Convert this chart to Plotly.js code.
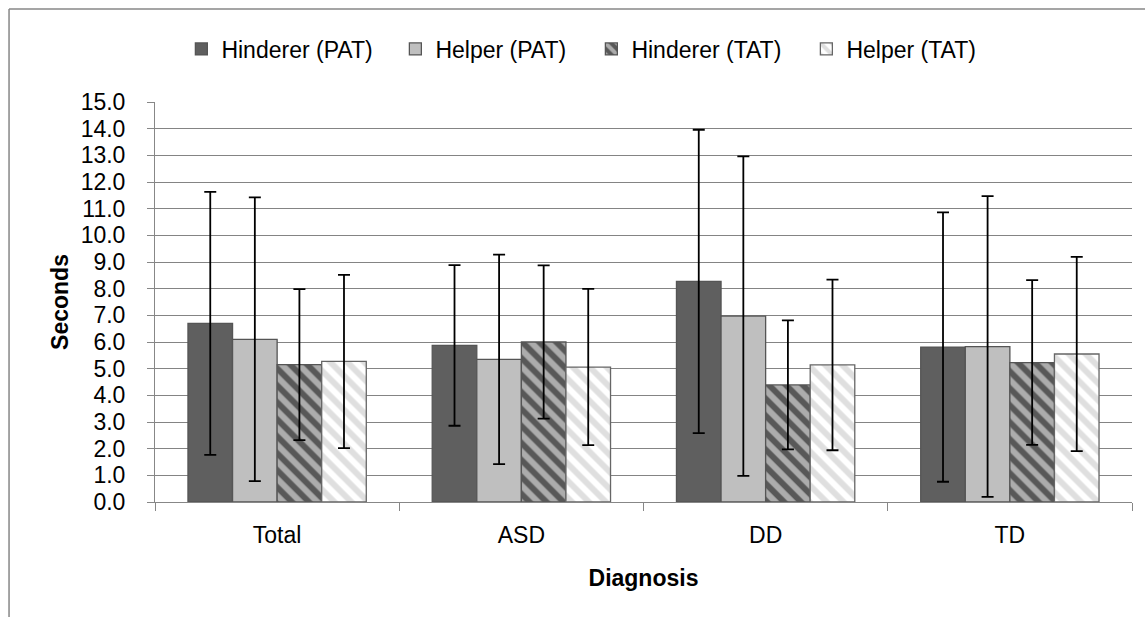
<!DOCTYPE html>
<html>
<head>
<meta charset="utf-8">
<script src="https://cdn.plot.ly/plotly-3.0.1.min.js"></script>
<style>
  html, body { margin: 0; padding: 0; background: #ffffff; }
  #chart { width: 1145px; height: 617px; }
</style>
</head>
<body>
<div id="chart"></div>
<script>
// ---- data ----
const categories = ["Total", "ASD", "DD", "TD"];
const seriesNames = ["Hinderer (PAT)", "Helper (PAT)", "Hinderer (TAT)", "Helper (TAT)"];
const hindererPAT = [6.7, 5.87, 8.27, 5.81];
const hindererPATerr = [4.93, 3.01, 5.69, 5.05];
const helperPAT = [6.1, 5.35, 6.97, 5.83];
const helperPATerr = [5.32, 3.93, 5.99, 5.64];
const hindererTAT = [5.15, 6.0, 4.39, 5.23];
const hindererTATerr = [2.83, 2.87, 2.42, 3.09];
const helperTAT = [5.27, 5.06, 5.14, 5.55];
const helperTATerr = [3.25, 2.93, 3.2, 3.64];
const yTickVals = [0,1,2,3,4,5,6,7,8,9,10,11,12,13,14,15];
const yTickText = ["0.0","1.0","2.0","3.0","4.0","5.0","6.0","7.0","8.0","9.0","10.0","11.0","12.0","13.0","14.0","15.0"];

const FONT = "'Liberation Sans', Arial, sans-serif";
const outline = { color: "#555555", width: 1.3 };
function errs(arr) {
  return { type: "data", array: arr, visible: true, color: "#000000", thickness: 1.8, width: 6 };
}

const traces = [
  { type: "bar", name: seriesNames[0], x: categories, y: hindererPAT, error_y: errs(hindererPATerr),
    legendwidth: 169,
    marker: { color: "#5f5f5f", line: outline } },
  { type: "bar", name: seriesNames[1], x: categories, y: helperPAT, error_y: errs(helperPATerr),
    legendwidth: 151,
    marker: { color: "#bfbfbf", line: outline } },
  { type: "bar", name: seriesNames[2], x: categories, y: hindererTAT, error_y: errs(hindererTATerr),
    legendwidth: 170,
    marker: { color: "#585858", line: outline,
      pattern: { shape: "\\", fillmode: "overlay", fgcolor: "#ffffff", size: 12, solidity: 0.5 } } },
  { type: "bar", name: seriesNames[3], x: categories, y: helperTAT, error_y: errs(helperTATerr),
    marker: { color: "#ffffff", line: { color: "#666666", width: 1.3 },
      pattern: { shape: "\\", fillmode: "overlay", fgcolor: "#c0c0c0", size: 12, solidity: 0.5 } } }
];

const layout = {
  width: 1145, height: 617,
  paper_bgcolor: "#ffffff", plot_bgcolor: "#ffffff",
  margin: { l: 155, r: 13, t: 102, b: 115, pad: 0 },
  font: { family: FONT, size: 23, color: "#000000" },
  barmode: "group", bargap: 0.27, bargroupgap: 0,
  showlegend: true,
  legend: {
    orientation: "h", x: 0.027, xanchor: "left", y: 1.1325, yanchor: "middle",
    font: { family: FONT, size: 23, color: "#000000" },
    bgcolor: "rgba(0,0,0,0)", traceorder: "normal"
  },
  xaxis: {
    type: "category",
    showline: true, linecolor: "#878787", linewidth: 1,
    ticks: "outside", tickson: "boundaries", ticklen: 8, tickcolor: "#878787", tickwidth: 1,
    ticklabelstandoff: 12,
    showgrid: false, zeroline: false,
    tickfont: { family: FONT, size: 23 },
    title: { text: "<b>Diagnosis</b>", font: { family: FONT, size: 23 }, standoff: 23 }
  },
  yaxis: {
    range: [0, 15], tickvals: yTickVals, ticktext: yTickText,
    showline: true, linecolor: "#878787", linewidth: 1,
    ticks: "outside", ticklen: 7, tickcolor: "#878787", tickwidth: 1,
    ticklabelstandoff: 17,
    showgrid: true, gridcolor: "#848484", gridwidth: 1, zeroline: false,
    tickfont: { family: FONT, size: 23 },
    title: { text: "<b>Seconds</b>", font: { family: FONT, size: 23 }, standoff: 5 }
  },
  shapes: [
    { type: "line", xref: "paper", yref: "paper", x0: -0.1494, x1: 1.02, y0: 1.2325, y1: 1.2325,
      line: { color: "#878787", width: 1.5 } },
    { type: "line", xref: "paper", yref: "paper", x0: -0.1494, x1: -0.1494, y0: 1.2325, y1: -0.29,
      line: { color: "#878787", width: 1.5 } }
  ]
};

Plotly.newPlot("chart", traces, layout, { displayModeBar: false });
</script>
</body>
</html>
